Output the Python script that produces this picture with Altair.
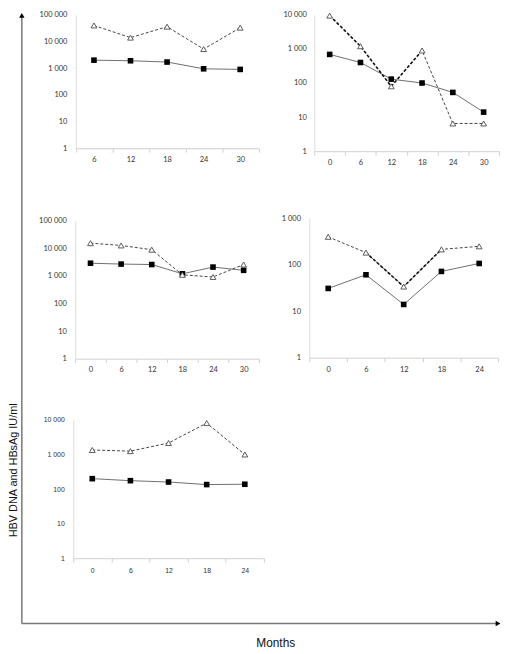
import altair as alt
import pandas as pd

# ---------------- data ----------------
months_a = [6, 12, 18, 24, 30]
months_b = [0, 6, 12, 18, 24, 30]
months_c = [0, 6, 12, 18, 24]

p1_hbsag = [40000, 14000, 36000, 5200, 33000]
p1_dna = [2000, 1900, 1700, 950, 900]

p2_hbsag = [9500, 1200, 80, 900, 6.5, 6.5]
p2_dna = [690, 400, 130, 100, 53, 14]

p3_hbsag = [15500, 12800, 9000, 1100, 920, 2600]
p3_dna = [2900, 2700, 2600, 1200, 2100, 1600]

p4_hbsag = [400, 183, 34, 215, 250]
p4_dna = [31, 61, 14, 72, 107]

p5_hbsag = [1350, 1250, 2150, 8100, 1000]
p5_dna = [200, 175, 160, 135, 138]

y_ticks_1e5 = [1, 10, 100, 1000, 10000, 100000]
y_ticks_1e4 = [1, 10, 100, 1000, 10000]
y_ticks_1e3 = [1, 10, 100, 1000]

y_title = "HBV DNA and HBsAg IU/ml"
x_title = "Months"

W, H = 500, 646

LABEL_EXPR = "replace(format(datum.value, ','), regexp(',', 'g'), ' ')"


def panel(months, dna, hbs, xr, yr, yticks, font, fsize, xpad, ypad, bold):
    n = len(months)
    d = pd.DataFrame({
        "m": months * 2,
        "value": dna + hbs,
        "series": ["HBV DNA"] * n + ["HBsAg"] * n,
    })
    base = alt.Chart(d)
    x = alt.X(
        "m:O",
        scale=alt.Scale(type="band", domain=months, range=xr, paddingInner=0, paddingOuter=0),
        axis=alt.Axis(
            orient="bottom", offset=yr[0] - H, title=None, labelAngle=0,
            tickBand="extent", tickSize=4, tickColor="#d0d0d0", domainColor="#d0d0d0",
            labelFont=font, labelFontSize=fsize, labelColor="#333333", labelPadding=xpad,
            grid=False,
        ),
    )
    y = alt.Y(
        "value:Q",
        scale=alt.Scale(type="log", domain=[1, yticks[-1]], range=yr, nice=False),
        axis=alt.Axis(
            orient="left", offset=-xr[0], title=None, values=yticks, labelExpr=LABEL_EXPR,
            ticks=False, domainColor="#dcdcdc", grid=False,
            labelFont=font, labelFontSize=fsize, labelColor="#333333", labelPadding=ypad,
        ),
    )
    order = alt.Order("m:Q")
    dna_line = base.transform_filter(alt.datum.series == "HBV DNA").mark_line(
        color="#6e6e6e", strokeWidth=1).encode(x=x, y=y, order=order)
    hbs_line = base.transform_filter(alt.datum.series == "HBsAg").mark_line(
        color="#444444", strokeWidth=1, strokeDash=[3, 2]).encode(x=x, y=y, order=order)
    layers = [dna_line, hbs_line]
    if bold:
        bold_line = base.transform_filter(alt.datum.series == "HBsAg").transform_filter(
            alt.FieldOneOfPredicate(field="m", oneOf=bold)).mark_line(
            color="#111111", strokeWidth=1.6, strokeDash=[3, 2]).encode(x=x, y=y, order=order)
        layers.append(bold_line)
    dna_pts = base.transform_filter(alt.datum.series == "HBV DNA").mark_point(
        shape="square", filled=True, color="#000000", size=32, opacity=1).encode(x=x, y=y)
    hbs_pts = base.transform_filter(alt.datum.series == "HBsAg").mark_point(
        shape="triangle-up", filled=True, fill="white", stroke="#4a4a4a", strokeWidth=0.9,
        size=34, opacity=1).encode(x=x, y=y)
    layers += [dna_pts, hbs_pts]
    return alt.layer(*layers)


panels = [
    panel(months_a, p1_dna, p1_hbsag, [68.5, 253.5], [138, 3], y_ticks_1e5, "Lato", 7.5, 3.5, 9, []),
    panel(months_b, p2_dna, p2_hbsag, [310, 497], [141, 3], y_ticks_1e4, "Lato", 7.5, 3.5, 8, [0, 6, 12, 18]),
    panel(months_b, p3_dna, p3_hbsag, [68, 254], [351, 211.5], y_ticks_1e5, "Lato", 7.5, 3.5, 9, []),
    panel(months_c, p4_dna, p4_hbsag, [305, 496], [350, 209], y_ticks_1e3, "Lato", 7.5, 3.5, 9, [6, 12, 18]),
    panel(months_c, p5_dna, p5_hbsag, [66, 259], [553, 413], y_ticks_1e4, "Liberation Sans", 7, 4.5, 9, []),
]

one = pd.DataFrame({"a": [0]})
frame_v = alt.Chart(one).mark_rule(color="#777777", strokeWidth=1.5).encode(
    x=alt.value(14), y=alt.value(4), y2=alt.value(619))
frame_h = alt.Chart(one).mark_rule(color="#777777", strokeWidth=1.5).encode(
    x=alt.value(14), x2=alt.value(495), y=alt.value(619))
head_up = alt.Chart(one).mark_point(shape="triangle-up", filled=True, color="black", size=30, opacity=1).encode(
    x=alt.value(14), y=alt.value(3.5))
head_right = alt.Chart(one).mark_point(shape="triangle-right", filled=True, color="black", size=30, opacity=1).encode(
    x=alt.value(496), y=alt.value(619))
ytitle = alt.Chart(pd.DataFrame({"t": [y_title]})).mark_text(
    font="Liberation Sans", fontSize=11, angle=270, color="#111111", baseline="middle", align="center").encode(
    text="t:N", x=alt.value(6.5), y=alt.value(464))
xtitle = alt.Chart(pd.DataFrame({"t": [x_title]})).mark_text(
    font="Liberation Sans", fontSize=12, color="#111111", baseline="middle", align="center").encode(
    text="t:N", x=alt.value(271), y=alt.value(639))

chart = alt.layer(*panels, frame_v, frame_h, head_up, head_right, ytitle, xtitle).resolve_scale(
    x="independent", y="independent").resolve_axis(x="independent", y="independent").properties(
    width=W, height=H, autosize=alt.AutoSizeParams(type="none"), padding=0,
).configure_view(stroke=None)

chart.save("out.html", embed_options={"renderer": "svg", "actions": False})
